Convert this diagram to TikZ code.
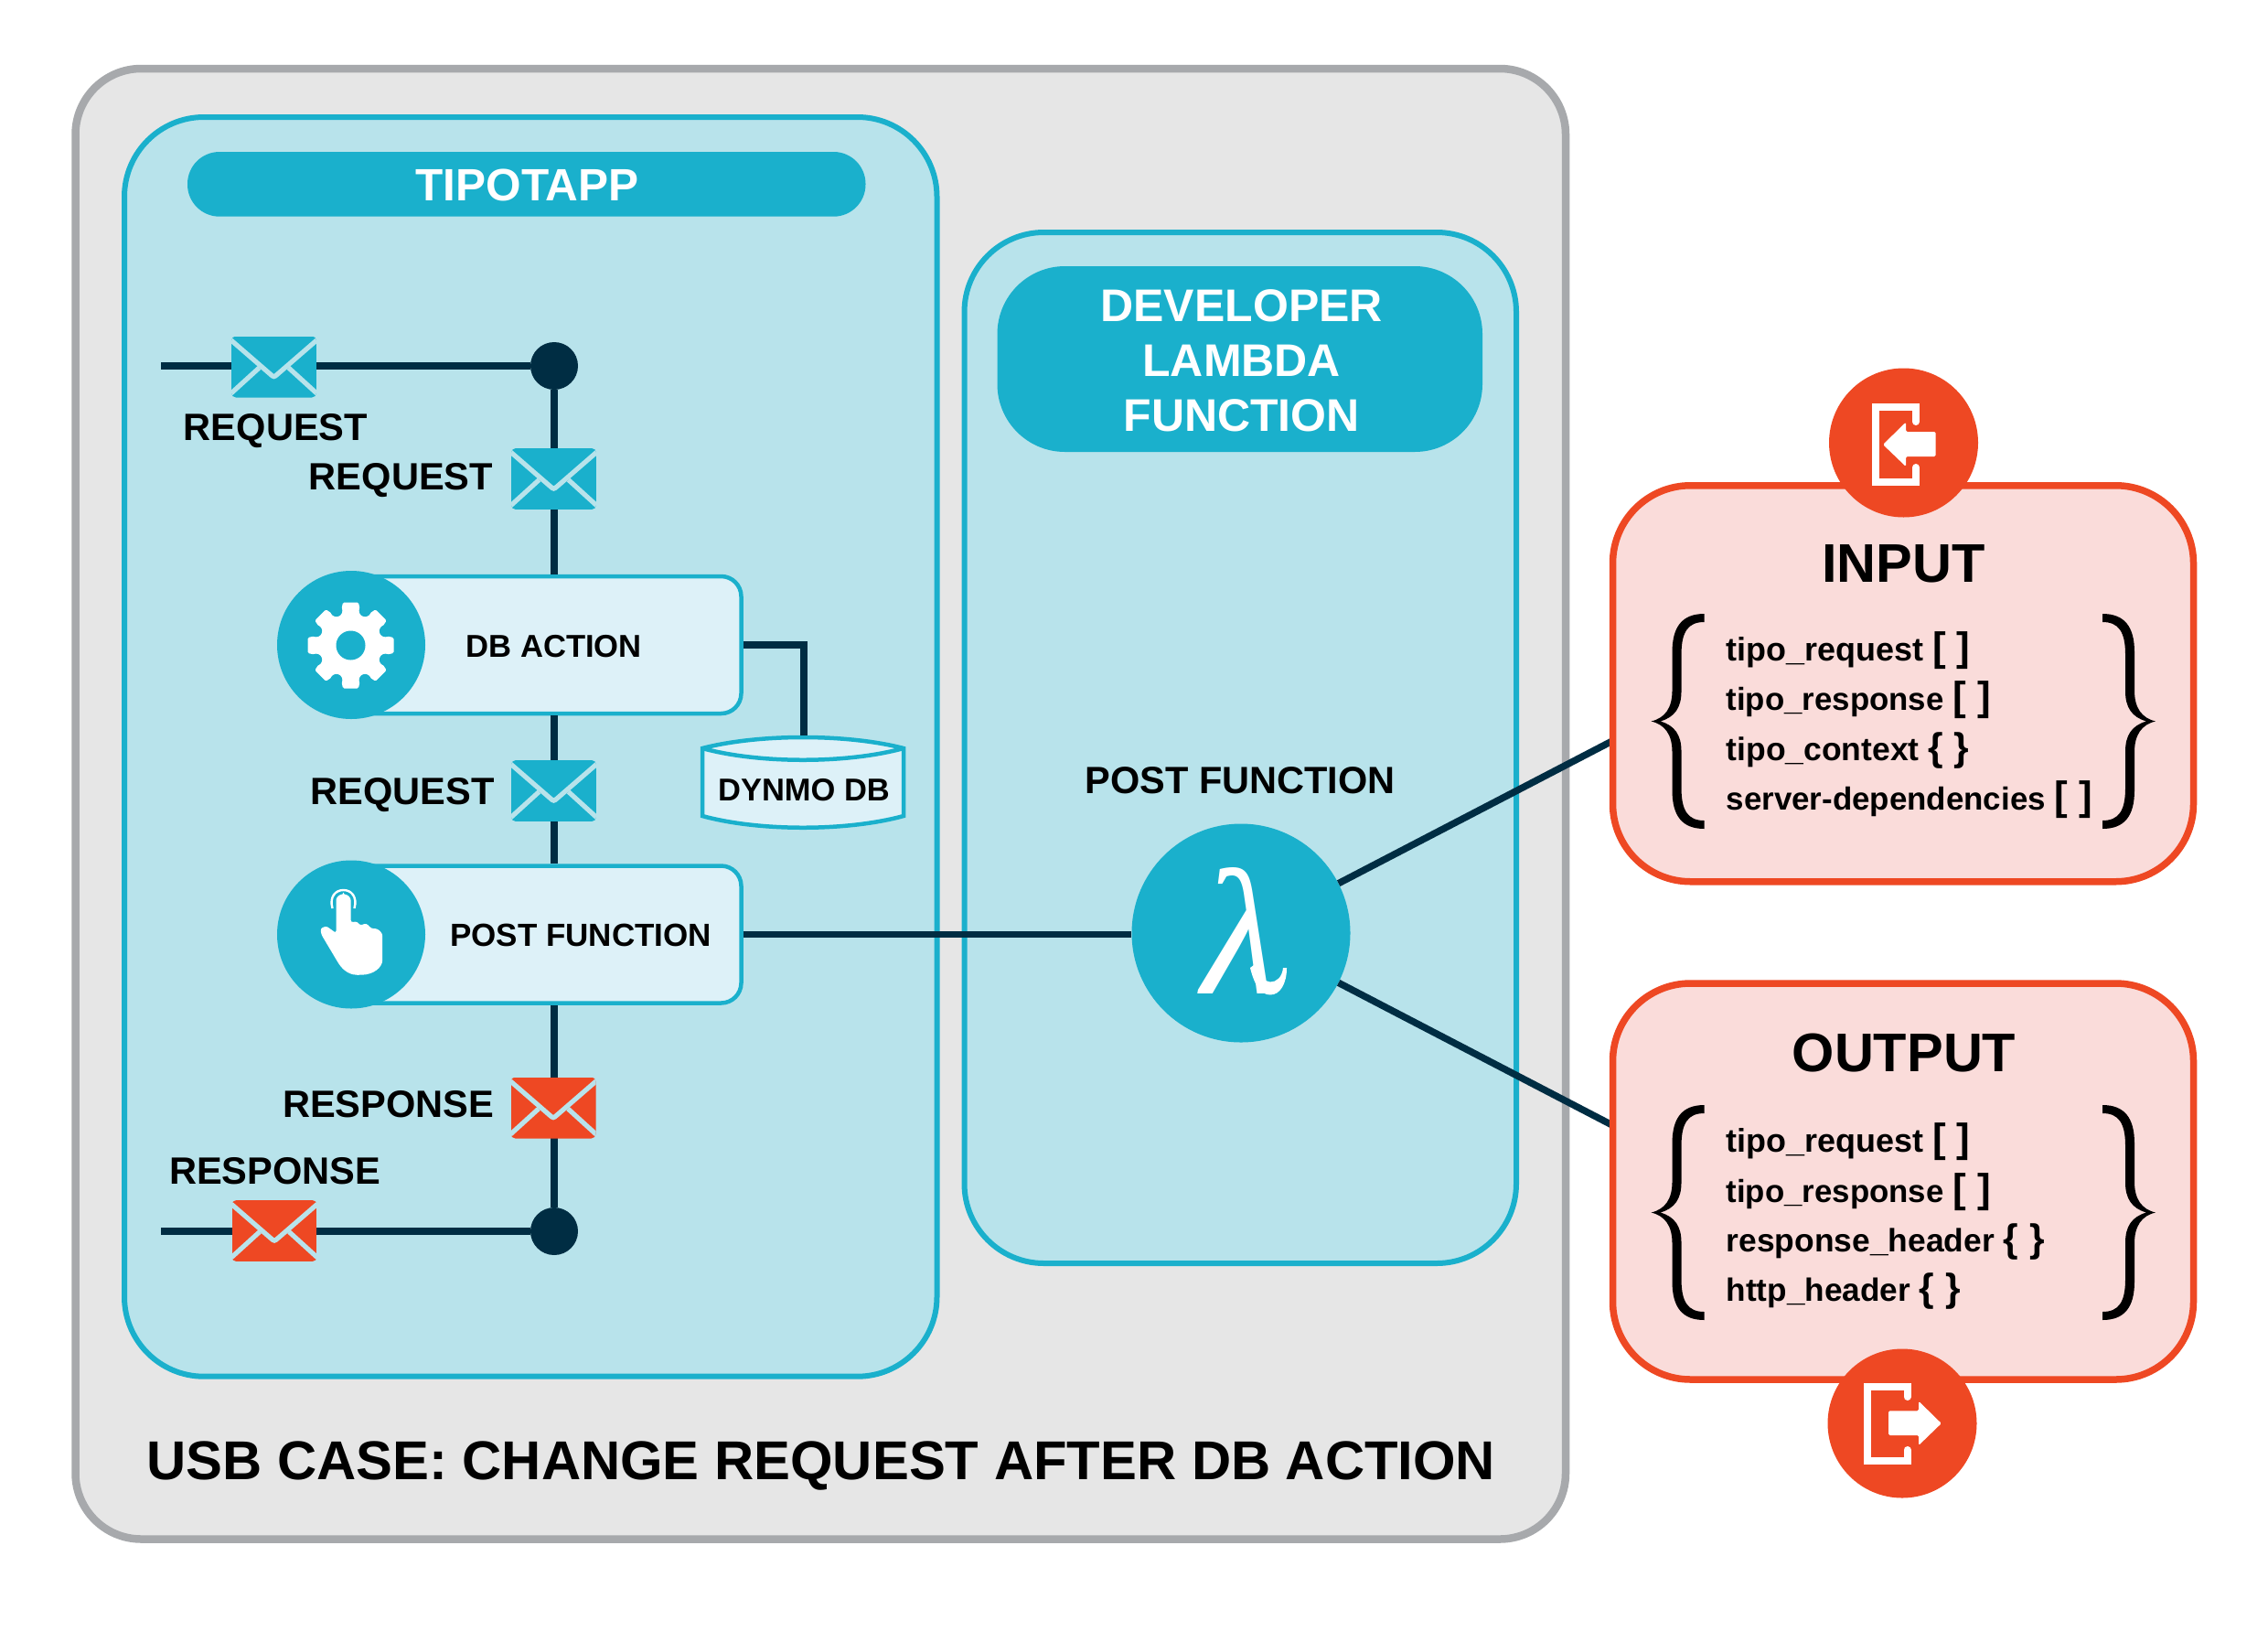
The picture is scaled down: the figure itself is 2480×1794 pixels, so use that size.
\documentclass[tikz,border=0pt]{standalone}
\usepackage{fontspec}
\setmainfont{Liberation Sans}
\newfontfamily\lamfont{Liberation Serif}
\definecolor{frameline}{HTML}{A7A9AC}
\definecolor{framefill}{HTML}{E6E6E6}
\definecolor{teal}{HTML}{1AB0CC}
\definecolor{panel}{HTML}{B8E3EB}
\definecolor{pale}{HTML}{DDF1F8}
\definecolor{wire}{HTML}{002D43}
\definecolor{orange}{HTML}{EE4823}
\definecolor{pink}{HTML}{FADCDA}
\newcommand\fs[1]{\fontsize{#1}{#1}\selectfont\bfseries}
\tikzset{
  panelbox/.style={draw=teal,line width=6pt,fill=panel,rounded corners=87pt,inner sep=0pt},
  head/.style={fill=teal,inner sep=0pt,text=white,align=center},
  stepbox/.style={draw=teal,line width=4.5pt,fill=pale,rounded corners=22pt,inner sep=0pt,minimum width=427pt,minimum height=150pt},
  iconcirc/.style={circle,fill=teal,inner sep=0pt,minimum size=162pt},
  redcirc/.style={circle,fill=orange,inner sep=0pt,minimum size=163pt},
  dotn/.style={circle,fill=wire,inner sep=0pt,minimum size=52pt},
  wireline/.style={draw=wire,line width=7.5pt},
  redbox/.style={draw=orange,line width=7.5pt,fill=pink,rounded corners=85pt,inner sep=0pt,minimum width=635pt,minimum height=433pt},
  lab/.style={anchor=base west,inner sep=0pt,font=\fs{41.6}},
  ctr/.style={anchor=base,inner sep=0pt},
  item/.style={anchor=base west,inner sep=0pt},
  envgap/.style={draw=panel,line width=5.2pt},
}
\newcommand\brk[1]{{\fs{44}#1}}
\newcommand\crl[1]{{\fs{42.5}#1}}
\newcommand\envelope[3]{%
  \begin{scope}[shift={(#1,#2)}]
    \begin{scope}
      \path[clip,rounded corners=5pt] (-46.5,-33.5) rectangle (46.5,33.5);
      \fill[#3] (-46.5,-33.5) rectangle (46.5,33.5);
      \draw[envgap] (-49,-31) -- (-4,8) .. controls (0,11.5) .. (4,8) -- (49,-31);
      \draw[envgap] (-49,31) -- (-16,1);
      \draw[envgap] (49,31) -- (16,1);
    \end{scope}
  \end{scope}}
\newcommand\bigbrace[3]{% x of tip, top y, x-mirror factor
  \begin{scope}[shift={(#1,#2)},xscale=#3]
    \fill[black] (58,0) .. controls (34,0) and (23,14) .. (23,42) -- (23,84)
      .. controls (23,103) and (15,114) .. (0,117.5)
      .. controls (15,121) and (23,132) .. (23,151) -- (23,193)
      .. controls (23,221) and (34,235) .. (58,235) -- (58,226)
      .. controls (40,226) and (33,215) .. (33,190) -- (33,150)
      .. controls (33,133) and (26,122) .. (10,117.5)
      .. controls (26,113) and (33,102) .. (33,85) -- (33,45)
      .. controls (33,20) and (40,9) .. (58,9) -- cycle;
  \end{scope}}
\begin{document}
\begin{tikzpicture}[x=1pt,y=-1pt]
\useasboundingbox (0,0) rectangle (2480,1794);
\fill[white] (0,0) rectangle (2480,1794);
% outer frame
\node[draw=frameline,fill=framefill,line width=8.5pt,rounded corners=72pt,inner sep=0pt,minimum width=1629.5pt,minimum height=1607.5pt] (frame) at (897.25,878.75) {};
% panels
\node[panelbox,minimum width=888.5pt,minimum height=1376.7pt] (tipo) at (580.25,816.35) {};
\node[panelbox,minimum width=603.5pt,minimum height=1127pt] (dev) at (1356.25,817.5) {};
\node[head,rounded corners=35pt,minimum width=741.5pt,minimum height=70.7pt] (tipohead) at (575.75,201.35) {};
\node[ctr,text=white,font=\fs{49.5}] (tipotxt) at (576.6,219) {TIPOTAPP};
\node[head,rounded corners=74pt,minimum width=530.5pt,minimum height=203pt] (devhead) at (1355.75,392.5) {};
\node[ctr,text=white,font=\fs{50}] (dev1) at (1357.7,351.7) {DEVELOPER};
\node[ctr,text=white,font=\fs{50}] (dev2) at (1357.7,411) {LAMBDA};
\node[ctr,text=white,font=\fs{50}] (dev3) at (1357.7,471) {FUNCTION};
\node[anchor=base west,inner sep=0pt,font=\fs{59.8}] (title) at (160,1617.7) {USB CASE: CHANGE REQUEST AFTER DB ACTION};
% DB cylinder
\draw[draw=teal,line width=4.5pt,fill=pale,line join=miter] (768,818) .. controls (830,802) and (926,802) .. (988,818) -- (988,892) .. controls (926,909) and (830,909) .. (768,892) -- cycle;
\draw[draw=teal,line width=4.5pt] (768,818) .. controls (830,835) and (926,835) .. (988,818);
\node[ctr,font=\fs{34.5}] (dynmo) at (879,875) {DYNMO DB};
\coordinate (dbtop) at (879,804);
% step boxes
\node[stepbox] (dbbox) at (597,705) {};
\node[stepbox] (postbox) at (597,1021.5) {};
\node[iconcirc] (gearc) at (384,705) {};
\node[iconcirc] (handc) at (384,1021.5) {};
\node[ctr,font=\fs{34.6}] (dbtxt) at (605.6,718) {DB ACTION};
\node[ctr,font=\fs{35}] (posttxt) at (635,1034) {POST FUNCTION};
% gear
\begin{scope}[shift={(383.5,705.5)}]
  \fill[white] (0,0) circle (35);
  \foreach \a in {0,45,...,315}{
    \fill[white,rotate=\a,rounded corners=1.5pt] (30,-12) -- (47,-8.5) -- (47,8.5) -- (30,12) -- cycle;
  }
  \foreach \a in {22.5,67.5,...,337.5}{
    \fill[teal] (\a:41) circle (6.5);
  }
  \fill[teal] (0,0) circle (16);
\end{scope}
% hand
\fill[white,rounded corners=2.5pt] (375.5,978) .. controls (371,978) and (367.5,981) .. (367.5,986.7) -- (367.5,1020) -- (356.8,1012.3) -- (350.4,1015) -- (351.4,1021.7) -- (369.3,1051.7) .. controls (376,1062) and (384,1066) .. (393.2,1065.7) .. controls (408,1065.5) and (418.2,1058) .. (418.2,1046.7) -- (418.2,1020.7) -- (412.9,1015.3) -- (406,1015) -- (400.7,1009.3) -- (393.6,1011.7) -- (390.7,1007.3) -- (383.6,1008.3) -- (383.6,986.7) .. controls (383.6,981) and (380,978) .. (375.5,978) -- cycle;
\draw[white,line width=2.4pt] (363.5,993) .. controls (360,980) and (367,973) .. (375.5,973) .. controls (384,973) and (391,980) .. (387.5,993);
% junction dots
\node[dotn] (dottop) at (606,400) {};
\node[dotn] (dotbot) at (606,1346) {};
\coordinate (reqin) at (176,400);
\coordinate (resout) at (176,1346);
% lambda
\node[circle,fill=teal,inner sep=0pt,minimum size=239pt] (lam) at (1357,1020) {};
\node[inner sep=0pt,text=white,font={\lamfont\itshape\fontsize{196}{196}\selectfont}] (lamtxt) at (1357,1017.5) {λ};
\fill[white] (1367,1058) .. controls (1372,1078) and (1379,1087.5) .. (1389,1087.5) .. controls (1400,1087.5) and (1407,1075) .. (1407,1058) -- (1403,1058) .. controls (1402,1068) and (1396,1073.5) .. (1389,1073.5) .. controls (1382,1073.5) and (1378,1066) .. (1375,1052) -- cycle;
\node[ctr,font=\fs{41.5}] (postlab) at (1356,867.7) {POST FUNCTION};
\coordinate (inport) at (1763,810);
\coordinate (outport) at (1763,1230);
% connectors
\draw[wireline] (reqin) -- (dottop);
\draw[wireline] (dottop) -- (dbbox.north -| dottop);
\draw[wireline] (dbbox.south -| dottop) -- (postbox.north -| dottop);
\draw[wireline] (postbox.south -| dottop) -- (dotbot);
\draw[wireline] (dotbot) -- (resout);
\draw[wireline] (dbbox.east) -| (dbtop);
\draw[wireline] (postbox.east) -- (lam.west |- postbox.east);
\draw[wireline] (lam.27) -- (inport);
\draw[wireline] (lam.-27) -- (outport);
% envelopes
\envelope{299.5}{401}{teal}
\envelope{605.5}{523.5}{teal}
\envelope{605.5}{864.5}{teal}
\envelope{605}{1211}{orange}
\envelope{300}{1345.5}{orange}
% labels
\node[lab] (lr1) at (200.7,481) {REQUEST};
\node[lab] (lr2) at (337.7,535.5) {REQUEST};
\node[lab] (lr3) at (339.5,879) {REQUEST};
\node[lab] (lr4) at (309,1221.7) {RESPONSE};
\node[lab] (lr5) at (185,1294) {RESPONSE};
% input box
\node[redbox] (inbox) at (2081,747.25) {};
\node[redbox] (outbox) at (2081,1291.5) {};
\node[ctr,font=\fs{59.5}] (intxt) at (2081.5,636.5) {INPUT};
\node[ctr,font=\fs{59.5}] (outtxt) at (2082,1171.5) {OUTPUT};
\bigbrace{1805.5}{671}{1}
\bigbrace{2357}{671}{-1}
\bigbrace{1805.5}{1208}{1}
\bigbrace{2357}{1208}{-1}
\node[item,font=\fs{35.9}] (i1) at (1887.5,722) {tipo\_request \brk{[ ]}};
\node[item,font=\fs{34.8}] (i2) at (1887.5,776) {tipo\_response \brk{[ ]}};
\node[item,font=\fs{35.5}] (i3) at (1887.5,831) {tipo\_context \crl{\{ \}}};
\node[item,font=\fs{34.9}] (i4) at (1887.5,885) {server-dependencies \brk{[ ]}};
\node[item,font=\fs{35.9}] (o1) at (1887.5,1259) {tipo\_request \brk{[ ]}};
\node[item,font=\fs{34.8}] (o2) at (1887.5,1314) {tipo\_response \brk{[ ]}};
\node[item,font=\fs{35.4}] (o3) at (1887.5,1368) {response\_header \crl{\{ \}}};
\node[item,font=\fs{35.2}] (o4) at (1887.5,1422) {http\_header \crl{\{ \}}};
% input icon
\node[redcirc] (inc) at (2081.5,484) {};
\draw[white,line width=8pt,line cap=round] (2095,461) -- (2095,445) -- (2051,445) -- (2051,527) -- (2095,527) -- (2095,511);
\fill[white,rounded corners=1.5pt] (2059,486) -- (2084,461.5) -- (2084,472) -- (2116.5,472) -- (2116.5,499) -- (2084,499) -- (2084,510) -- cycle;
% output icon
\node[redcirc] (outc) at (2080,1556) {};
\draw[white,line width=8pt,line cap=round] (2085.5,1527) -- (2085.5,1515.5) -- (2042,1515.5) -- (2042,1596.5) -- (2085.5,1596.5) -- (2085.5,1585);
\fill[white,rounded corners=1.5pt] (2122.8,1556) -- (2098,1531.7) -- (2098,1542.4) -- (2065,1542.4) -- (2065,1569) -- (2098,1569) -- (2098,1580) -- cycle;
\end{tikzpicture}
\end{document}
